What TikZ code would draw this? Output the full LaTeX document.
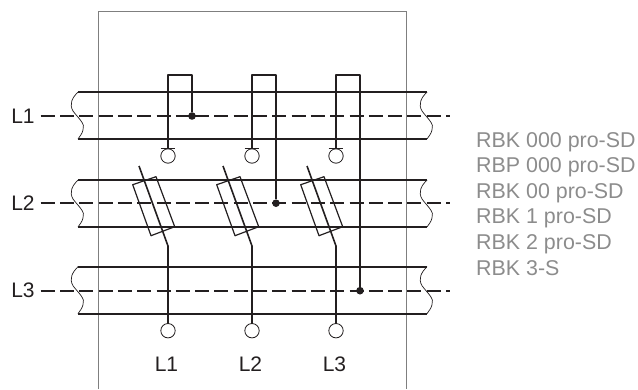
\documentclass[tikz,border=0pt]{standalone}
\usepackage{fontspec}
\setmainfont{Liberation Sans}
\definecolor{ink}{HTML}{231F20}
\definecolor{soft}{HTML}{8C8C8C}
\definecolor{framec}{HTML}{7F7F7F}
\tikzset{
  x=1pt,y=-1pt,
  bus/.style={draw=ink,line width=1.6pt},
  wire/.style={draw=ink,line width=1.6pt,line join=round},
  thin wave/.style={draw=ink,line width=0.7pt},
  phase/.style={draw=ink,line width=1.6pt,dash pattern=on 14pt off 5.3pt},
  dotn/.style={circle,fill=ink,inner sep=0pt,minimum size=7.6pt},
  term/.style={circle,draw=ink,line width=0.8pt,fill=white,inner sep=0pt,minimum size=14.4pt},
  lab/.style={text=ink,font=\fontsize{21}{21}\selectfont,inner sep=0pt},
  gray lab/.style={text=soft,font=\fontsize{21.4}{21.4}\selectfont,anchor=base west,inner sep=0pt},
  fuse/.style={draw=ink,line width=1.2pt,line join=round},
}
\begin{document}
\begin{tikzpicture}
\useasboundingbox (0,0) rectangle (638,389);
\draw[framec,line width=1pt] (98,389) -- (98,11.7) -- (406.7,11.7) -- (406.7,389);
\foreach \yt/\ym in {92/116,180/203.2,266.7/290.7}{
  \pgfmathsetmacro\yb{\yt+47}
  \draw[bus] (78,\yt) -- (427,\yt);
  \draw[bus] (78,\yb) -- (427,\yb);
  \draw[thin wave] (78,\yt) .. controls (72,{\yt+6}) and (69,{\yt+12}) .. (73,{\yt+19}) .. controls (78,{\yt+26}) and (86,{\yt+32}) .. (83,{\yt+38}) .. controls (82,{\yt+42}) and (80,{\yt+44}) .. (78,\yb);
  \draw[thin wave] (427,\yt) .. controls (421,{\yt+6}) and (418,{\yt+12}) .. (422,{\yt+19}) .. controls (427,{\yt+26}) and (435,{\yt+32}) .. (432,{\yt+38}) .. controls (431,{\yt+42}) and (429,{\yt+44}) .. (427,\yb);
  \draw[phase] (40.7,\ym) -- (450,\ym);
}
\node[lab] (la) at (23,116.7) {L1};
\node[lab] (lb) at (23,203.5) {L2};
\node[lab] (lc) at (23,290.5) {L3};
\foreach \x/\k in {168/1,252/2,336/3}{
  \node[term] (top\k) at (\x,156) {};
  \node[term] (bot\k) at (\x,330.7) {};
  \coordinate (cap\k) at (\x,148.7);
  \draw[wire] (cap\k) -- (\x,74.7) -- (\x+24,74.7);
  \draw[ink,line width=1.2pt] (\x-7.3,148.7) -- (\x+7.3,148.7);
  \draw[wire] (bot\k.north) -- (\x,246) -- (\x-29,166);
  \begin{scope}[shift={(\x-168,0)}]
    \draw[fuse] (132.7,184.7) -- (156,176.7) -- (174.7,226.7) -- (151,235.7) -- cycle;
  \end{scope}
  \node[lab] (name\k) at (\x-1.5,364.5) {L\k};
}
\node[dotn] (da) at (192,116) {};
\node[dotn] (db) at (276,203.2) {};
\node[dotn] (dc) at (360,290.7) {};
\draw[wire] (168,74.7) -- (192,74.7) -- (da);
\draw[wire] (252,74.7) -- (276,74.7) -- (db);
\draw[wire] (336,74.7) -- (360,74.7) -- (dc);
\node[gray lab] (t1) at (476,147.3) {RBK 000 pro-SD};
\node[gray lab] (t2) at (476,172.8) {RBP 000 pro-SD};
\node[gray lab] (t3) at (476,198.3) {RBK 00 pro-SD};
\node[gray lab] (t4) at (476,223.5) {RBK 1 pro-SD};
\node[gray lab] (t5) at (476,249) {RBK 2 pro-SD};
\node[gray lab] (t6) at (476,275) {RBK 3-S};
\end{tikzpicture}
\end{document}
